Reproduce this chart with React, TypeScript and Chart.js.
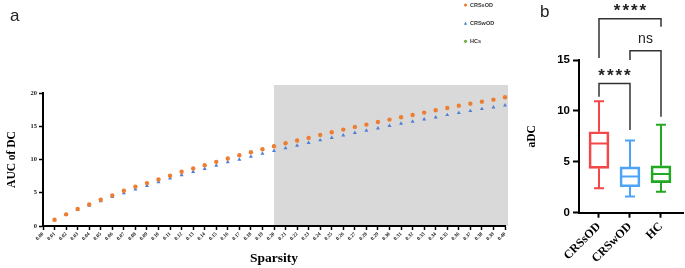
import React, { useEffect, useRef } from "react";
import { Chart, registerables } from "chart.js";
Chart.register(...registerables);

// ---------- Panel a data ----------
const sparsityLabels = [
  "0.00", "0.01", "0.02", "0.03", "0.04", "0.05", "0.06", "0.07", "0.08", "0.09",
  "0.10", "0.11", "0.12", "0.13", "0.14", "0.15", "0.16", "0.17", "0.18", "0.19",
  "0.20", "0.21", "0.22", "0.23", "0.24", "0.25", "0.26", "0.27", "0.28", "0.29",
  "0.30", "0.31", "0.32", "0.33", "0.34", "0.35", "0.36", "0.37", "0.38", "0.39", "0.40",
];
const crsSOD = [
  0.95, 1.75, 2.55, 3.25, 3.95, 4.6, 5.3, 5.9, 6.45, 7.0,
  7.55, 8.15, 8.65, 9.15, 9.65, 10.15, 10.65, 11.1, 11.55, 12.0,
  12.45, 12.85, 13.25, 13.7, 14.1, 14.5, 14.9, 15.25, 15.65, 16.0,
  16.35, 16.7, 17.05, 17.4, 17.75, 18.1, 18.4, 18.7, 19.0, 19.35,
];
const crsWOD = [
  0.9, 1.7, 2.45, 3.05, 3.75, 4.4, 4.95, 5.5, 6.05, 6.6,
  7.15, 7.65, 8.15, 8.6, 9.1, 9.6, 10.0, 10.45, 10.9, 11.3,
  11.7, 12.1, 12.5, 12.9, 13.25, 13.65, 14.0, 14.35, 14.7, 15.05,
  15.4, 15.7, 16.05, 16.35, 16.7, 17.0, 17.3, 17.6, 17.85, 18.15,
];
const yTicksA = [0, 5, 10, 15, 20];
const shadeFrom = "0.20";
const shadeTopValue = 21.2;
const legendNames = ["CRSsOD", "CRSwOD", "HCs"];
const legendColors = ["#ED7D31", "#4F7FD3", "#70AD47"];
const legendShapes = ["circle", "triangle", "circle"];

// ---------- Panel b data ----------
const groups = ["CRSsOD", "CRSwOD", "HC"];
const boxMin = [2.4, 1.6, 2.05];
const boxQ1 = [4.35, 2.55, 2.95];
const boxMedian = [6.8, 3.55, 3.8];
const boxQ3 = [7.95, 4.5, 4.6];
const boxMax = [10.95, 7.1, 8.65];
const boxColors = ["#F44848", "#4DA3F5", "#22A822"];
const yTicksB = [0, 5, 10, 15];
const bracketFrom = [1, 2, 1];
const bracketTo = [3, 3, 2];
const bracketTop = [19.05, 15.9, 12.7];
const bracketLeftEnd = [15.2, 15.0, 11.4];
const bracketRightEnd = [18.27, 9.43, 8.12];
const bracketLabels = ["****", "ns", "****"];

const SERIF = "'Liberation Serif', 'Times New Roman', serif";
const SANS = "'Liberation Sans', Arial, sans-serif";

function PanelA() {
  const ref = useRef<HTMLCanvasElement>(null);
  useEffect(() => {
    const shade = {
      id: "shade",
      beforeDraw(chart: any) {
        const { ctx, chartArea } = chart;
        const xs = chart.scales.x;
        const ys = chart.scales.y;
        const x0 = xs.getPixelForValue(sparsityLabels.indexOf(shadeFrom));
        const y0 = ys.getPixelForValue(shadeTopValue);
        ctx.save();
        ctx.fillStyle = "#D9D9D9";
        ctx.fillRect(x0, y0, chartArea.right + 3 - x0, chartArea.bottom - y0);
        ctx.restore();
      },
    };
    const legendAndLabel = {
      id: "legendAndLabel",
      afterDraw(chart: any) {
        const { ctx } = chart;
        ctx.save();
        ctx.fillStyle = "#222";
        ctx.font = `17px ${SANS}`;
        ctx.textBaseline = "alphabetic";
        ctx.fillText("a", 10, 21);
        const ys = [5, 23.5, 41.3];
        legendNames.forEach((name, i) => {
          const x = 465.5;
          const y = ys[i];
          ctx.fillStyle = legendColors[i];
          if (legendShapes[i] === "triangle") {
            ctx.beginPath();
            ctx.moveTo(x, y - 1.8);
            ctx.lineTo(x + 1.7, y + 1.2);
            ctx.lineTo(x - 1.7, y + 1.2);
            ctx.closePath();
            ctx.fill();
          } else {
            ctx.beginPath();
            ctx.arc(x, y, 1.6, 0, Math.PI * 2);
            ctx.fill();
          }
          ctx.fillStyle = "#333";
          ctx.font = `bold 5.5px ${SANS}`;
          ctx.textBaseline = "middle";
          ctx.fillText(name, 470, y + 0.3);
        });
        ctx.restore();
      },
    };
    const toPoints = (vals: number[]) =>
      vals.map((v, i) => ({ x: sparsityLabels[i + 1], y: v }));
    const chart = new Chart(ref.current as HTMLCanvasElement, {
      type: "line",
      data: {
        labels: sparsityLabels,
        datasets: [
          {
            label: legendNames[0],
            data: toPoints(crsSOD) as any,
            showLine: false,
            pointStyle: "circle",
            pointRadius: 2.2,
            pointBackgroundColor: legendColors[0],
            pointBorderColor: legendColors[0],
            pointBorderWidth: 0,
          },
          {
            label: legendNames[1],
            data: toPoints(crsWOD) as any,
            showLine: false,
            pointStyle: "triangle",
            pointRadius: 2.3,
            pointBackgroundColor: legendColors[1],
            pointBorderColor: legendColors[1],
            pointBorderWidth: 0,
          },
        ],
      },
      options: {
        animation: false,
        responsive: false,
        events: [],
        layout: { padding: { top: 93, right: 15, left: 0, bottom: 0 } },
        plugins: { legend: { display: false }, tooltip: { enabled: false } },
        scales: {
          x: {
            type: "category",
            offset: false,
            afterFit: (s: any) => {
              s.height = 42;
            },
            grid: {
              drawOnChartArea: false,
              offset: false,
              tickLength: 4,
              tickWidth: 1.5,
              tickColor: "#000",
            },
            border: { display: true, color: "#000", width: 2 },
            ticks: {
              autoSkip: false,
              maxRotation: 45,
              minRotation: 45,
              padding: 1,
              color: "#222",
              font: { family: SERIF, size: 5.2, weight: "bold" },
            },
            title: {
              display: true,
              text: "Sparsity",
              color: "#000",
              font: { family: SERIF, size: 13.5, weight: "bold" },
              padding: { top: 0, bottom: 1 },
            },
          },
          y: {
            min: 0,
            max: 20,
            afterBuildTicks: (s: any) => {
              s.ticks = yTicksA.map((v) => ({ value: v }));
            },
            afterFit: (s: any) => {
              s.width = 43;
            },
            grid: {
              drawOnChartArea: false,
              tickLength: 4,
              tickWidth: 1.5,
              tickColor: "#000",
            },
            border: { display: true, color: "#000", width: 2 },
            ticks: {
              padding: 2,
              color: "#222",
              font: { family: SERIF, size: 6.5, weight: "bold" },
            },
            title: {
              display: true,
              text: "AUC of DC",
              color: "#000",
              font: { family: SERIF, size: 11.5, weight: "bold" },
              padding: { top: 5, bottom: 0 },
            },
          },
        },
      },
      plugins: [shade, legendAndLabel],
    } as any);
    return () => chart.destroy();
  }, []);
  return (
    <canvas
      ref={ref}
      width={520}
      height={268}
      style={{ position: "absolute", left: 0, top: 0, width: 520, height: 268 }}
    />
  );
}

function PanelB() {
  const ref = useRef<HTMLCanvasElement>(null);
  useEffect(() => {
    const whiskers = {
      id: "whiskers",
      afterDatasetsDraw(chart: any) {
        const { ctx } = chart;
        const xs = chart.scales.x;
        const ys = chart.scales.y;
        ctx.save();
        ctx.lineWidth = 2;
        groups.forEach((_, i) => {
          const cx = xs.getPixelForValue(i + 1);
          ctx.strokeStyle = boxColors[i];
          ctx.beginPath();
          ctx.moveTo(cx, ys.getPixelForValue(boxQ3[i]));
          ctx.lineTo(cx, ys.getPixelForValue(boxMax[i]));
          ctx.moveTo(cx - 5, ys.getPixelForValue(boxMax[i]));
          ctx.lineTo(cx + 5, ys.getPixelForValue(boxMax[i]));
          ctx.moveTo(cx, ys.getPixelForValue(boxQ1[i]));
          ctx.lineTo(cx, ys.getPixelForValue(boxMin[i]));
          ctx.moveTo(cx - 5, ys.getPixelForValue(boxMin[i]));
          ctx.lineTo(cx + 5, ys.getPixelForValue(boxMin[i]));
          ctx.moveTo(cx - 10, ys.getPixelForValue(boxMedian[i]));
          ctx.lineTo(cx + 10, ys.getPixelForValue(boxMedian[i]));
          ctx.stroke();
        });
        ctx.restore();
      },
    };
    const brackets = {
      id: "brackets",
      afterDraw(chart: any) {
        const { ctx } = chart;
        const xs = chart.scales.x;
        const ys = chart.scales.y;
        ctx.save();
        ctx.fillStyle = "#222";
        ctx.font = `17px ${SANS}`;
        ctx.textBaseline = "alphabetic";
        ctx.fillText("b", 20, 17);
        ctx.strokeStyle = "#333";
        ctx.lineWidth = 1.5;
        bracketLabels.forEach((label, i) => {
          const x0 = xs.getPixelForValue(bracketFrom[i]);
          const x1 = xs.getPixelForValue(bracketTo[i]);
          const yt = ys.getPixelForValue(bracketTop[i]);
          ctx.beginPath();
          ctx.moveTo(x0, ys.getPixelForValue(bracketLeftEnd[i]));
          ctx.lineTo(x0, yt);
          ctx.lineTo(x1, yt);
          ctx.lineTo(x1, ys.getPixelForValue(bracketRightEnd[i]));
          ctx.stroke();
          const cx = (x0 + x1) / 2;
          ctx.fillStyle = "#222";
          ctx.textAlign = "center";
          if (label === "ns") {
            ctx.font = `14px ${SANS}`;
            (ctx as any).letterSpacing = "0px";
            ctx.fillText(label, cx, yt - 7.7);
          } else {
            ctx.font = `bold 17px ${SANS}`;
            (ctx as any).letterSpacing = "2px";
            ctx.fillText(label, cx + 1, yt - 2.4);
          }
        });
        ctx.restore();
      },
    };
    const chart = new Chart(ref.current as HTMLCanvasElement, {
      type: "bar",
      data: {
        datasets: [
          {
            data: groups.map((_, i) => ({ x: i + 1, y: [boxQ1[i], boxQ3[i]] })) as any,
            backgroundColor: "rgba(0,0,0,0)",
            borderColor: boxColors,
            borderWidth: 2,
            borderSkipped: false,
            barThickness: 20,
          },
        ],
      },
      options: {
        animation: false,
        responsive: false,
        events: [],
        layout: { padding: { top: 60, right: 2, left: 0, bottom: 0 } },
        plugins: { legend: { display: false }, tooltip: { enabled: false } },
        scales: {
          x: {
            type: "linear",
            min: 0.355,
            max: 3.71,
            offset: false,
            afterBuildTicks: (s: any) => {
              s.ticks = groups.map((_, i) => ({ value: i + 1 }));
            },
            afterFit: (s: any) => {
              s.height = 55.3;
            },
            grid: {
              drawOnChartArea: false,
              offset: false,
              tickLength: 5,
              tickWidth: 2,
              tickColor: "#000",
            },
            border: { display: true, color: "#000", width: 2 },
            ticks: {
              autoSkip: false,
              maxRotation: 45,
              minRotation: 45,
              padding: 2,
              color: "#000",
              font: { family: SERIF, size: 12, weight: "bold" },
              callback: (v: any) => groups[Math.round(v) - 1],
            },
          },
          y: {
            min: 0,
            max: 15,
            afterBuildTicks: (s: any) => {
              s.ticks = yTicksB.map((v) => ({ value: v }));
            },
            afterFit: (s: any) => {
              s.width = 59;
            },
            grid: {
              drawOnChartArea: false,
              tickLength: 6,
              tickWidth: 2,
              tickColor: "#000",
            },
            border: { display: true, color: "#000", width: 2 },
            ticks: {
              padding: 3,
              color: "#000",
              font: { family: SANS, size: 11.5, weight: "bold" },
            },
            title: {
              display: true,
              text: "aDC",
              color: "#000",
              font: { family: SERIF, size: 11.5, weight: "bold" },
              padding: { top: 5, bottom: 0 },
            },
          },
        },
      },
      plugins: [whiskers, brackets],
    } as any);
    return () => chart.destroy();
  }, []);
  return (
    <canvas
      ref={ref}
      width={165}
      height={268}
      style={{ position: "absolute", left: 520, top: 0, width: 165, height: 268 }}
    />
  );
}

export default function App() {
  return (
    <div
      style={{
        position: "absolute",
        left: 0,
        top: 0,
        width: 685,
        height: 268,
        background: "#fff",
        overflow: "hidden",
      }}
    >
      <PanelA />
      <PanelB />
    </div>
  );
}
